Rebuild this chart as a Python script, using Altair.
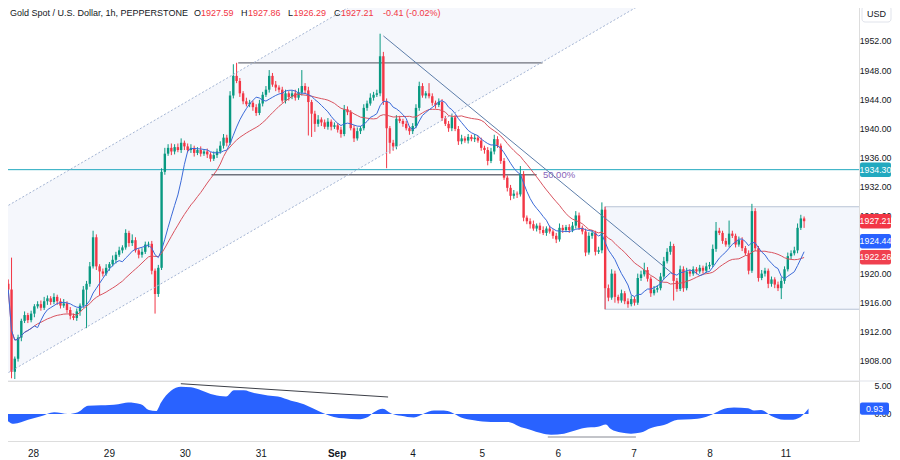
import altair as alt
import pandas as pd

# ---------------- data ----------------
first_open = 1918.6
closes = [
    1917.8, 1906.5, 1908.3, 1911.2, 1913.5, 1914.3, 1913.6, 1914.5, 1915.5, 1915.8,
    1915.3, 1916.2, 1916.6, 1916.1, 1916.8, 1916.2, 1915.6, 1915.9, 1915.0, 1914.2,
    1913.9, 1914.8, 1915.6, 1917.8, 1918.6, 1921.0, 1925.0, 1921.0, 1920.3, 1920.0,
    1920.8, 1921.3, 1921.9, 1922.6, 1923.2, 1923.6, 1925.6, 1924.2, 1924.6, 1923.2,
    1922.6, 1923.0, 1924.0, 1924.1, 1920.4, 1917.2, 1920.8, 1934.0, 1936.5, 1937.3,
    1936.8, 1937.4, 1937.0, 1938.0, 1937.5, 1937.0, 1937.3, 1936.6, 1937.0, 1936.5,
    1936.8, 1936.4, 1935.8, 1936.3, 1936.8, 1937.6, 1938.7, 1938.0, 1944.5, 1947.2,
    1946.5, 1944.8, 1943.7, 1943.3, 1943.5, 1942.9, 1942.1, 1943.4, 1944.6, 1945.3,
    1947.2, 1946.0, 1945.6, 1945.3, 1943.8, 1944.8, 1944.3, 1944.8, 1944.2, 1944.9,
    1945.8, 1945.2, 1943.6, 1942.0, 1940.6, 1941.2, 1940.8, 1940.2, 1940.9, 1940.2,
    1940.4, 1939.8, 1939.2, 1942.6, 1942.2, 1940.0, 1938.6, 1939.6, 1940.0, 1942.8,
    1943.4, 1944.2, 1944.6, 1944.8, 1949.9, 1943.7, 1940.0, 1938.0, 1937.5, 1941.3,
    1941.0, 1940.6, 1940.0, 1939.6, 1940.3, 1942.8, 1945.8, 1944.5, 1944.8, 1944.4,
    1943.5, 1943.2, 1943.6, 1941.4, 1940.6, 1940.0, 1941.5, 1939.9, 1938.2, 1938.6,
    1938.3, 1938.8, 1938.5, 1938.7, 1938.3, 1937.3, 1937.0, 1935.5, 1936.8, 1938.5,
    1937.6, 1935.5, 1933.2, 1931.8, 1930.7, 1931.0, 1930.9, 1933.7, 1927.7, 1927.2,
    1926.8, 1926.2, 1926.6, 1926.0, 1925.6, 1926.2, 1925.8, 1925.2, 1924.7, 1926.3,
    1926.0, 1926.4, 1926.0, 1926.6, 1928.0, 1926.3, 1925.8, 1922.9, 1925.2, 1925.6,
    1923.0, 1923.2, 1928.8, 1918.0, 1916.7, 1920.0, 1916.8, 1916.3, 1917.3, 1916.2,
    1915.8, 1916.5, 1916.0, 1919.4, 1919.9, 1920.5, 1919.3, 1917.3, 1917.8, 1918.0,
    1919.6, 1921.7, 1923.0, 1923.8, 1919.0, 1917.9, 1920.6, 1918.0, 1920.3, 1920.0,
    1920.6, 1920.3, 1920.8, 1920.4, 1921.0, 1921.2, 1923.4, 1925.9, 1925.6, 1924.5,
    1924.0, 1925.5, 1925.2, 1924.0, 1924.6, 1923.5, 1922.8, 1920.4, 1928.6, 1923.5,
    1919.4, 1920.0, 1920.4, 1918.6, 1919.2, 1918.5, 1918.0, 1919.0, 1920.6, 1922.4,
    1922.8, 1923.2, 1926.3, 1927.59, 1927.21,
]
upper_wick = [
    0.6, 4.4, 0.3, 0.4, 0.3, 0.5, 0.3, 0.4, 0.3, 0.4,
    0.5, 0.6, 0.4, 0.3, 0.5, 0.3, 0.4, 0.6, 0.3, 0.4,
    0.3, 0.4, 0.3, 0.5, 0.4, 0.6, 0.9, 0.4, 0.3, 0.4,
    0.5, 0.3, 0.6, 0.4, 0.5, 0.3, 0.5, 0.3, 0.8, 0.4,
    0.3, 0.5, 0.4, 0.3, 0.4, 0.3, 0.4, 0.5, 0.8, 0.5,
    0.6, 0.4, 0.5, 0.6, 0.3, 0.4, 0.5, 0.3, 0.4, 0.5,
    0.3, 0.4, 0.3, 0.5, 0.4, 0.6, 0.5, 0.4, 0.6, 1.6,
    1.8, 0.4, 0.3, 0.5, 0.4, 0.3, 0.4, 0.5, 0.4, 0.5,
    0.8, 0.4, 0.5, 0.3, 0.4, 0.5, 0.3, 0.4, 0.5, 0.6,
    2.2, 0.4, 0.5, 0.3, 0.4, 0.6, 0.3, 0.4, 0.5, 0.3,
    0.4, 0.3, 0.4, 0.6, 0.4, 0.3, 0.4, 0.5, 0.3, 0.5,
    0.4, 0.6, 0.4, 0.5, 3.1, 0.6, 0.4, 0.3, 0.4, 0.5,
    0.4, 0.3, 0.4, 0.3, 0.4, 0.5, 0.6, 0.4, 0.3, 1.4,
    0.4, 0.3, 0.5, 0.4, 0.3, 0.4, 0.5, 0.3, 0.4, 0.5,
    0.3, 0.4, 0.3, 0.5, 0.3, 0.4, 0.3, 0.4, 0.5, 0.6,
    0.4, 0.3, 0.4, 0.3, 0.4, 0.5, 0.3, 1.1, 0.4, 0.3,
    0.4, 0.5, 0.3, 0.4, 0.5, 0.3, 0.4, 0.3, 0.4, 0.6,
    0.4, 0.3, 0.4, 0.5, 0.6, 0.4, 0.3, 0.4, 0.5, 0.4,
    0.3, 0.5, 1.0, 0.4, 0.5, 0.6, 0.4, 0.3, 0.5, 0.3,
    0.4, 0.5, 0.3, 0.6, 0.5, 1.0, 0.4, 0.3, 0.5, 0.4,
    0.5, 0.6, 0.5, 0.6, 0.3, 0.4, 0.5, 0.4, 0.5, 0.3,
    0.4, 0.3, 0.4, 0.3, 0.5, 0.4, 0.6, 1.2, 0.4, 0.3,
    0.4, 1.8, 0.4, 0.3, 0.5, 0.4, 0.3, 0.4, 1.0, 0.4,
    0.3, 0.5, 0.4, 0.3, 0.4, 0.3, 0.4, 0.5, 0.4, 0.5,
    0.4, 0.5, 0.6, 0.5, 0.27,
]
lower_wick = [
    0.5, 0.9, 1.0, 0.4, 0.5, 0.3, 0.4, 0.3, 0.5, 0.3,
    0.4, 0.3, 0.5, 0.4, 0.3, 0.5, 0.4, 0.3, 0.4, 0.5,
    0.3, 0.4, 0.6, 0.3, 5.3, 0.4, 0.3, 0.5, 3.3, 0.4,
    0.3, 0.4, 0.3, 0.5, 0.3, 0.4, 0.3, 0.5, 0.4, 0.3,
    0.5, 0.4, 0.3, 0.4, 0.5, 2.7, 0.4, 0.3, 0.4, 0.3,
    0.5, 0.4, 0.3, 0.4, 0.5, 0.3, 0.4, 0.5, 0.3, 0.4,
    0.3, 0.5, 0.4, 0.3, 0.4, 0.3, 0.4, 0.5, 0.3, 0.4,
    0.3, 0.5, 0.4, 0.3, 0.4, 0.5, 0.4, 0.3, 0.4, 0.3,
    0.4, 0.3, 0.5, 0.4, 0.3, 0.4, 0.5, 0.3, 0.4, 0.3,
    0.4, 0.5, 4.6, 3.2, 1.1, 0.4, 0.5, 0.3, 0.4, 0.5,
    0.3, 0.4, 0.5, 0.3, 0.4, 0.3, 0.5, 0.3, 0.4, 0.3,
    0.4, 0.3, 0.4, 0.3, 0.4, 0.5, 5.5, 1.5, 0.6, 0.4,
    0.3, 0.4, 0.3, 0.5, 0.4, 0.3, 0.4, 0.3, 0.4, 0.3,
    0.4, 0.5, 0.3, 0.4, 0.3, 0.5, 0.4, 0.3, 0.5, 0.4,
    0.3, 0.4, 0.3, 0.4, 0.3, 0.4, 0.5, 0.6, 0.3, 0.4,
    0.3, 0.4, 0.3, 0.5, 0.6, 0.4, 0.5, 0.3, 0.5, 0.4,
    0.6, 0.3, 0.4, 0.5, 0.3, 0.4, 0.3, 0.4, 0.5, 0.3,
    0.4, 0.3, 0.4, 0.3, 0.4, 0.3, 0.4, 0.5, 0.3, 0.4,
    0.5, 0.3, 0.4, 2.9, 0.5, 0.3, 0.8, 0.4, 0.3, 0.4,
    0.5, 0.3, 0.4, 0.3, 0.4, 0.3, 0.4, 0.5, 0.3, 0.4,
    0.3, 0.4, 0.3, 0.4, 2.7, 0.4, 0.3, 0.5, 0.3, 0.4,
    0.3, 0.4, 0.3, 0.4, 0.3, 0.4, 0.3, 0.4, 0.3, 0.4,
    0.3, 0.4, 0.3, 0.4, 0.3, 0.4, 0.3, 0.5, 0.3, 0.4,
    0.5, 0.3, 0.4, 0.6, 0.4, 0.5, 0.4, 1.5, 0.4, 0.3,
    0.4, 0.3, 0.4, 0.3, 0.92,
]

day_index = [9, 32, 55, 78, 101, 124, 145, 168, 191, 214, 237]
day_label = ["28", "29", "30", "31", "Sep", "4", "5", "6", "7", "8", "11"]
bold_day = "Sep"

osc_index = [-0.7, 3.2, 7.5, 11.4, 15.4, 19.6, 22.6, 25.7, 29.6, 34.8,
             37.8, 41.7, 44.1, 46.3, 47.8, 50.8, 53.8, 56.9, 59.9, 63.8,
             67.5, 69.9, 72.9, 76.0, 80.2, 83.2, 87.2, 91.1, 94.1, 97.2,
             100.2, 103.2, 107.5, 110.5, 112.3, 115.0, 117.5, 120.5, 124.4, 127.5,
             130.5, 133.5, 135.7, 138.7, 142.6, 147.8, 152.9, 156.9, 159.9, 162.9,
             166.0, 169.9, 173.0, 176.0, 180.2, 182.6, 184.1, 187.2, 190.2, 193.2,
             196.3, 200.2, 204.4, 208.4, 212.3, 215.4, 217.5, 221.4, 225.7, 227.5,
             229.6, 232.6, 236.6, 238.6, 241.6, 244.0]
osc_value = [0.0, -1.7, -1.0, -0.4, 0.3, 0.0, 0.3, 1.4, 1.5, 1.7,
             2.0, 1.7, 0.7, 0.5, 2.0, 4.0, 4.7, 4.6, 4.1, 3.3,
             3.0, 4.1, 4.1, 3.6, 3.2, 3.0, 2.3, 1.7, 0.9, 0.1,
             -0.5, -0.75, -0.9, -0.5, 0.3, 0.9, 0.1, -0.3, -0.6, 0.1,
             0.6, 0.6, 0.3, -0.6, -1.1, -1.4, -1.4, -2.3, -2.75, -3.3,
             -3.6, -3.4, -2.9, -2.4, -2.2, -1.8, -2.6, -3.2, -3.4, -3.2,
             -2.4, -1.9, -1.0, -0.9, -0.6, 0.1, 0.7, 1.1, 1.0, 0.6,
             0.7, -0.3, -1.0, -1.0, -0.5, 0.93]

# 1924.00 sits fully under the blue MA tag in the reference, so it is not shown
price_ticks = [1908, 1912, 1916, 1920, 1928, 1932, 1936, 1940, 1944, 1948, 1952]
osc_ticks = [0, 5]

tag_price = [1934.30, 1927.21, 1924.44, 1922.26]
tag_color = ["#22a9bf", "#f23645", "#2962ff", "#f0404f"]
osc_tag_value = [0.93]

hline_price = [1934.30]
level_price = [1949.0, 1933.6]
level_from = [70.5, 62.3]
level_to = [163.8, 162.0]
fib_text = ["50.00%"]
fib_at_index = [163.0]
fib_at_price = [1933.6]

trend_from = [115.0, 1952.7]
trend_to = [203.8, 1919.95]

channel_index = [-1.0, 200.0]
channel_upper = [1929.12, 1981.58]
channel_lower = [1906.12, 1958.58]

box_index = [182.9, 262.0]
box_price = [1915.1, 1929.2]

osc_line_from_i = [53.8, 165.0]
osc_line_from_v = [5.22, -3.97]
osc_line_to_i = [116.6, 191.7]
osc_line_to_v = [2.93, -3.97]
osc_line_color = ["#3c3f47", "#868993"]

header_text = ["Gold Spot / U.S. Dollar, 1h, PEPPERSTONE", "O", "1927.59", "H", "1927.86",
               "L", "1926.29", "C", "1927.21", "-0.41 (-0.02%)"]

# ---------------- layout / style ----------------
GREEN = "#089981"
RED = "#f23645"
TXT = "#131722"
FONT = "Liberation Sans"
W = 858
H_MAIN = 380
H_OSC = 60
RIGHT = 890          # right edge of everything (page body ends at 892)
header_x = [9, 193, 200, 240, 247, 287, 292.5, 333, 340, 382]
header_is_value = [False, False, True, False, True, False, True, False, True, True]

X = alt.Scale(domain=[-0.7, 259.3], nice=False, zero=False)
YP = alt.Scale(domain=[1905.23, 1957.50], nice=False, zero=False)
YO = alt.Scale(domain=[-4.66, 5.69], nice=False, zero=False)

price_axis = alt.Axis(orient="right", values=price_ticks, format=".2f", title=None, grid=False,
                      domain=False, ticks=False, labelPadding=RIGHT - W, labelAlign="right",
                      labelFontSize=8.8, labelColor=TXT)
osc_axis = alt.Axis(orient="right", values=osc_ticks, format=".2f", title=None, grid=False,
                    domain=False, ticks=False, labelPadding=RIGHT - W, labelAlign="right",
                    labelFontSize=8.8, labelColor=TXT)
lbl_arr = "[" + ",".join(f"'{s}'" for s in day_label) + "]"
idx_arr = "[" + ",".join(str(v) for v in day_index) + "]"
x_axis = alt.Axis(values=day_index, labelExpr=f"{lbl_arr}[indexof({idx_arr}, datum.value)]",
                  labelFontWeight={"condition": {"test": f"datum.value == {day_index[day_label.index(bold_day)]}",
                                                 "value": "bold"}, "value": "normal"},
                  title=None, grid=False, domain=False, ticks=False, labelPadding=7,
                  labelFontSize=10, labelColor=TXT, labelFlush=False)


def xm(f):
    return alt.X(f"{f}:Q", scale=X, axis=None)


def yp(f):
    return alt.Y(f"{f}:Q", scale=YP, axis=price_axis)


def xo(f):
    return alt.X(f"{f}:Q", scale=X, axis=x_axis)


def yo(f):
    return alt.Y(f"{f}:Q", scale=YO, axis=osc_axis)


def label(text, x, y, color, size=9.0, weight="normal", align="left"):
    return alt.Chart(alt.Data(values=[{"t": text}])).mark_text(
        align=align, baseline="middle", fontSize=size, color=color, fontWeight=weight
    ).encode(x=alt.value(x), y=alt.value(y), text="t:N")


# ---------------- tables ----------------
n = len(closes)
opens = [first_open] + closes[:-1]
candles = pd.DataFrame({
    "i": list(range(n)),
    "open": opens,
    "close": closes,
    "high": [max(o, c) + w for o, c, w in zip(opens, closes, upper_wick)],
    "low": [min(o, c) - w for o, c, w in zip(opens, closes, lower_wick)],
    "dir": ["up" if c >= o else "down" for o, c in zip(opens, closes)],
})
dir_color = alt.Color("dir:N", scale=alt.Scale(domain=["up", "down"], range=[GREEN, RED]), legend=None)

channel_df = pd.DataFrame({"i": channel_index, "up": channel_upper, "lo": channel_lower})
channel_lines = pd.DataFrame({"x1": [channel_index[0]] * 2, "x2": [channel_index[1]] * 2,
                              "y1": [channel_upper[0], channel_lower[0]],
                              "y2": [channel_upper[1], channel_lower[1]]})
box_df = pd.DataFrame({"x1": [box_index[0]], "x2": [box_index[1]], "y1": [box_price[0]], "y2": [box_price[1]]})
levels_df = pd.DataFrame({"x1": level_from, "x2": level_to, "p": level_price})
trend_df = pd.DataFrame({"x1": [trend_from[0]], "x2": [trend_to[0]], "y1": [trend_from[1]], "y2": [trend_to[1]]})
tags_df = pd.DataFrame({"p": tag_price, "c": tag_color, "lbl": [f"{p:.2f}" for p in tag_price]})
fib_df = pd.DataFrame({"i": fib_at_index, "p": fib_at_price, "t": fib_text})

# ---------------- main (price) panel ----------------
fill = alt.Chart(channel_df).mark_area(clip=True, color="#f5f7fc").encode(
    x=xm("i"), y=yp("lo"), y2="up:Q")
box = alt.Chart(box_df).mark_rect(clip=True, fill="#f3f6fc", stroke="#b7c3d6", strokeWidth=1).encode(
    x=xm("x1"), x2="x2:Q", y=yp("y1"), y2="y2:Q")
chan = alt.Chart(channel_lines).mark_rule(clip=True, color="#a3b4d3", strokeWidth=1, strokeDash=[2, 2]).encode(
    x=xm("x1"), x2="x2:Q", y=yp("y1"), y2="y2:Q")
hline = alt.Chart(pd.DataFrame({"p": hline_price})).mark_rule(color="#22a9bf", strokeWidth=1).encode(y=yp("p"))
levels = alt.Chart(levels_df).mark_rule(color="#6f727c", strokeWidth=1.3, clip=True).encode(
    x=xm("x1"), x2="x2:Q", y=yp("p"))
fib = alt.Chart(fib_df).mark_text(align="left", baseline="middle", dx=3, fontSize=9.5, color="#8764b8").encode(
    x=xm("i"), y=yp("p"), text="t:N")
wicks = alt.Chart(candles).mark_rule(strokeWidth=1, clip=True).encode(
    x=xm("i"), y=yp("low"), y2="high:Q", color=dir_color)
bodies = alt.Chart(candles).mark_bar(size=2.4, clip=True).encode(
    x=xm("i"), y=yp("open"), y2="close:Q", color=dir_color)
ma_fast = alt.Chart(candles).transform_window(
    ma="mean(close)", frame=[-8, 0], sort=[{"field": "i"}]
).mark_line(color="#3b6ad8", strokeWidth=1, clip=True).encode(x=xm("i"), y=yp("ma"))
ma_slow = alt.Chart(candles).transform_window(
    ma="mean(close)", frame=[-20, 0], sort=[{"field": "i"}]
).mark_line(color="#d9535f", strokeWidth=1, clip=True).encode(x=xm("i"), y=yp("ma"))
trend = alt.Chart(trend_df).mark_rule(color="#5d7eaa", strokeWidth=1, clip=True).encode(
    x=xm("x1"), x2="x2:Q", y=yp("y1"), y2="y2:Q")
tag_box = alt.Chart(tags_df).transform_calculate(lo="datum.p - 1.0", hi="datum.p + 1.0").mark_rect(
    cornerRadius=2).encode(x=alt.value(W + 1), x2=alt.value(RIGHT), y=yp("lo"), y2="hi:Q",
                           color=alt.Color("c:N", scale=None))
tag_txt = alt.Chart(tags_df).mark_text(color="white", fontSize=8.8, align="center", baseline="middle").encode(
    x=alt.value((W + 1 + RIGHT) / 2), y=yp("p"), text="lbl:N")
usd_box = alt.Chart(alt.Data(values=[{}])).mark_rect(fill="white", stroke="#e0e3eb", cornerRadius=3).encode(
    x=alt.value(W + 3), x2=alt.value(RIGHT), y=alt.value(5), y2=alt.value(21))
separator = alt.Chart(alt.Data(values=[{}])).mark_rule(color="#e0e3eb", strokeWidth=1).encode(
    x=alt.value(0), x2=alt.value(RIGHT), y=alt.value(380))

header_layers = [
    label(t, hx, 12, RED if is_val else TXT)
    for t, hx, is_val in zip(header_text, header_x, header_is_value)
]

main = alt.layer(
    fill, box, hline, levels, fib, wicks, bodies, ma_slow, ma_fast, trend, chan,
    tag_box, tag_txt, usd_box, label("USD", (W + 3 + RIGHT) / 2, 13, TXT, align="center"), separator,
    *header_layers
).properties(width=W, height=H_MAIN)

# ---------------- oscillator panel ----------------
osc_df = pd.DataFrame({"i": osc_index, "v": osc_value, "zero": [0.0] * len(osc_index)})
osc_lines_df = pd.DataFrame({"x1": osc_line_from_i, "x2": osc_line_to_i, "y1": osc_line_from_v,
                             "y2": osc_line_to_v, "c": osc_line_color})
osc_tag_df = pd.DataFrame({"v": osc_tag_value, "lbl": [f"{v:.2f}" for v in osc_tag_value]})

osc_area = alt.Chart(osc_df).mark_area(color="#2962ff", interpolate="monotone", clip=True).encode(
    x=xo("i"), y=yo("v"), y2="zero:Q")
osc_lines = alt.Chart(osc_lines_df).mark_rule(strokeWidth=1, clip=True).encode(
    x=xo("x1"), x2="x2:Q", y=yo("y1"), y2="y2:Q", color=alt.Color("c:N", scale=None))
osc_tag_box = alt.Chart(osc_tag_df).transform_calculate(lo="datum.v - 1.05", hi="datum.v + 1.05").mark_rect(
    cornerRadius=2, color="#2962ff").encode(x=alt.value(W + 1), x2=alt.value(RIGHT - 2), y=yo("lo"), y2="hi:Q")
osc_tag_txt = alt.Chart(osc_tag_df).mark_text(color="white", fontSize=8.8, align="center", baseline="middle").encode(
    x=alt.value((W + RIGHT - 1) / 2), y=yo("v"), text="lbl:N")

osc = alt.layer(osc_area, osc_lines, osc_tag_box, osc_tag_txt).properties(width=W, height=H_OSC)

chart = alt.vconcat(main, osc, spacing=0, bounds="flush").properties(
    padding={"left": -8, "top": -8, "right": 0, "bottom": 0},
    background="white",
).configure_view(stroke=None).configure(font=FONT)

chart.save("out.html", embed_options={"renderer": "svg", "actions": False})
